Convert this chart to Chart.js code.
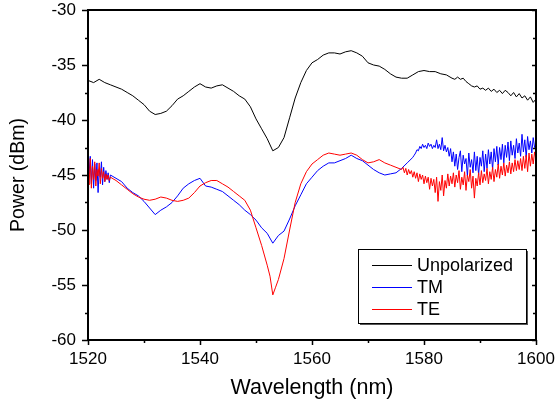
<!DOCTYPE html>
<html><head><meta charset="utf-8">
<script src="https://cdn.jsdelivr.net/npm/chart.js@4/dist/chart.umd.min.js"></script>
<style>html,body{margin:0;padding:0;background:#fff}canvas{display:block}</style>
</head><body>
<canvas id="c" width="555" height="406"></canvas>
<script>
const seriesNames = ['Unpolarized', 'TM', 'TE'];
const seriesColors = ['#000000', '#0000ff', '#ff0000'];
const xTickLabels = ['1520', '1540', '1560', '1580', '1600'];
const yTickLabels = ['-60', '-55', '-50', '-45', '-40', '-35', '-30'];

// Unpolarized (black)
const wlUnpol = [1520,1521,1522,1523,1524,1525,1526,1527,1528,1529,
 1530,1531,1532,1533,1534,1535,1536,1537,1538,1539,
 1540,1541,1542,1543,1544,1545,1546,1547,1548,1549,
 1550,1551,1552,1553,1554,1555,1556,1557,1558,1559,
 1560,1561,1562,1563,1564,1565,1566,1567,1568,1569,
 1570,1571,1572,1573,1574,1575,1576,1577,1578,1579,
 1580,1581,1582,1583,1584,1585,
 1585.5,1586,1586.5,1587,1587.5,1588,1588.5,1589,1589.5,1590,
 1590.5,1591,1591.5,1592,1592.5,1593,1593.5,1594,1594.5,1595,
 1595.5,1596,1596.5,1597,1597.5,1598,1598.5,1599,1599.5,1600];
const powUnpol = [-36.4,-36.6,-36.3,-36.6,-36.8,-37.0,-37.2,-37.5,-37.8,-38.2,
 -38.6,-39.2,-39.5,-39.4,-39.2,-38.7,-38.1,-37.8,-37.4,-37.0,
 -36.7,-37.0,-37.1,-36.9,-36.8,-37.1,-37.4,-37.8,-38.1,-38.8,
 -39.9,-40.8,-41.7,-42.8,-42.5,-41.6,-39.8,-38.0,-36.6,-35.5,
 -34.8,-34.5,-34.1,-33.9,-33.9,-34.0,-33.8,-33.7,-33.9,-34.2,
 -34.8,-35.0,-35.1,-35.4,-35.8,-36.1,-36.2,-36.2,-35.9,-35.6,
 -35.5,-35.6,-35.6,-35.8,-35.9,-36.2,
 -36.3,-36.1,-36.3,-36.2,-36.5,-36.7,-36.9,-37.0,-36.9,-37.2,
 -37.1,-37.3,-37.1,-37.4,-37.2,-37.5,-37.3,-37.6,-37.3,-37.5,
 -37.8,-37.5,-37.9,-37.6,-38.0,-37.8,-38.2,-37.9,-38.4,-38.1];

// TM (blue)
const wlTM = [1520,1520.2,1520.4,1520.6,1520.8,1521,1521.2,1521.4,1521.6,1521.8,
 1522,1522.2,1522.4,1522.6,1522.8,1523,1523.2,1523.4,1523.6,1523.8,1524,
 1525,1526,1527,1528,1529,1530,1531,1532,1533,1534,1535,1536,1537,1538,1539,
 1540,1541,1542,1543,1544,1545,1546,1547,1548,1549,1550,1551,1552,1553,1554,
 1555,1556,1557,1558,1559,1560,1561,1562,1563,1564,1565,1566,1567,1568,1569,
 1570,1571,1572,1573,1574,1575,1576,1577,1578,
 1578.25,1578.5,1578.75,1579,1579.25,1579.5,1579.75,1580,1580.25,1580.5,1580.75,1581,
 1581.25,1581.5,1581.75,1582,1582.25,1582.5,1582.75,1583,1583.25,1583.5,1583.75,1584,
 1584.25,1584.5,1584.75,1585,1585.25,1585.5,1585.75,1586,1586.25,1586.5,1586.75,1587,
 1587.25,1587.5,1587.75,1588,1588.25,1588.5,1588.75,1589,1589.25,1589.5,1589.75,1590,
 1590.25,1590.5,1590.75,1591,1591.25,1591.5,1591.75,1592,1592.25,1592.5,1592.75,1593,
 1593.25,1593.5,1593.75,1594,1594.25,1594.5,1594.75,1595,1595.25,1595.5,1595.75,1596,
 1596.25,1596.5,1596.75,1597,1597.25,1597.5,1597.75,1598,1598.25,1598.5,1598.75,1599,
 1599.25,1599.5,1599.75,1600];
const powTM = [-42.8,-44.9,-43.3,-45.8,-43.6,-46.2,-44.0,-45.5,-43.9,-46.6,
 -44.5,-45.2,-43.8,-45.9,-44.3,-45.6,-44.6,-45.4,-44.8,-45.7,-45.0,
 -45.3,-45.6,-46.2,-46.6,-46.9,-47.4,-48.0,-48.6,-48.2,-47.9,-47.5,-46.9,-46.2,-45.8,-45.5,
 -45.3,-46.0,-46.1,-46.3,-46.5,-46.9,-47.3,-47.7,-48.2,-48.6,-49.1,-49.8,-50.3,-51.2,-50.5,
 -50.1,-49.0,-47.8,-46.8,-45.8,-45.2,-44.6,-44.2,-43.9,-43.9,-43.7,-43.5,-43.2,-43.5,-43.7,
 -44.1,-44.5,-44.8,-45.0,-44.9,-44.8,-44.4,-43.9,-43.4,
 -43.2,-43.0,-42.7,-42.8,-42.4,-42.6,-42.2,-42.5,-42.3,-42.6,-42.1,-42.4,
 -42.2,-42.6,-42.3,-42.5,-41.8,-42.6,-42.2,-42.7,-41.6,-42.8,-42.3,-42.9,
 -42.5,-43.3,-42.6,-43.8,-42.9,-44.2,-43.1,-44.5,-43.4,-42.8,-44.7,-43.2,
 -44.0,-43.5,-45.1,-43.0,-44.3,-43.6,-44.8,-42.9,-44.6,-43.3,-45.0,-43.4,
 -44.2,-42.8,-44.7,-43.1,-44.4,-42.7,-44.0,-42.9,-44.5,-42.6,-43.8,-42.4,
 -44.1,-42.5,-43.6,-42.2,-43.9,-42.3,-43.4,-42.0,-43.7,-41.9,-43.2,-42.3,
 -43.5,-41.7,-43.0,-42.1,-43.3,-41.3,-42.9,-41.8,-43.4,-41.5,-42.7,-41.9,
 -43.0,-41.6,-42.5,-42.2];

// TE (red)
const wlTE = [1520,1520.2,1520.4,1520.6,1520.8,1521,1521.2,1521.4,1521.6,1521.8,
 1522,1522.2,1522.4,1522.6,1522.8,1523,1523.2,1523.4,1523.6,1523.8,1524,
 1525,1526,1527,1528,1529,1530,1531,1532,1533,1534,1535,1536,1537,1538,1539,
 1540,1541,1542,1543,1544,1545,1546,1547,1548,1549,1550,1551,1552,1552.5,1553,1553.5,1554,
 1555,1556,1557,1558,1559,1560,1561,1562,1563,1564,1565,1566,1567,1568,1569,
 1570,1571,1572,1573,1574,1575,1576,
 1576.25,1576.5,1576.75,1577,1577.25,1577.5,1577.75,1578,1578.25,1578.5,1578.75,1579,
 1579.25,1579.5,1579.75,1580,1580.25,1580.5,1580.75,1581,1581.25,1581.5,1581.75,1582,
 1582.25,1582.5,1582.75,1583,1583.25,1583.5,1583.75,1584,1584.25,1584.5,1584.75,1585,
 1585.25,1585.5,1585.75,1586,1586.25,1586.5,1586.75,1587,1587.25,1587.5,1587.75,1588,
 1588.25,1588.5,1588.75,1589,1589.25,1589.5,1589.75,1590,1590.25,1590.5,1590.75,1591,
 1591.25,1591.5,1591.75,1592,1592.25,1592.5,1592.75,1593,1593.25,1593.5,1593.75,1594,
 1594.25,1594.5,1594.75,1595,1595.25,1595.5,1595.75,1596,1596.25,1596.5,1596.75,1597,
 1597.25,1597.5,1597.75,1598,1598.25,1598.5,1598.75,1599,1599.25,1599.5,1599.75,1600];
const powTE = [-44.0,-45.9,-43.5,-46.2,-44.2,-45.4,-43.8,-46.0,-44.5,-45.1,
 -43.9,-45.8,-44.4,-45.3,-44.7,-45.6,-44.9,-45.4,-45.0,-45.5,-45.2,
 -45.5,-45.9,-46.3,-46.7,-47.0,-47.2,-47.3,-47.2,-47.0,-47.1,-47.3,-47.4,-47.3,-47.1,-46.6,
 -46.0,-45.7,-45.5,-45.5,-45.8,-46.1,-46.5,-46.9,-47.3,-48.2,-49.8,-51.4,-53.2,-54.2,-55.9,-55.2,-54.5,
 -52.6,-50.0,-47.5,-45.8,-44.7,-44.0,-43.6,-43.2,-43.0,-43.1,-43.2,-43.1,-43.0,-43.2,-43.6,
 -43.9,-43.8,-43.6,-43.9,-44.1,-44.3,-44.5,
 -44.3,-44.8,-44.4,-45.0,-44.5,-44.9,-44.6,-45.2,-44.7,-45.3,-44.8,-45.6,
 -44.9,-45.4,-45.0,-45.8,-45.1,-45.7,-45.2,-46.3,-45.3,-46.0,-45.4,-46.6,
 -45.2,-47.4,-45.6,-46.4,-45.0,-46.9,-45.5,-46.2,-44.9,-46.0,-45.1,-45.8,
 -44.8,-46.1,-45.0,-45.7,-44.6,-46.3,-45.2,-45.9,-44.7,-46.4,-45.0,-45.6,
 -44.5,-46.2,-45.1,-47.1,-45.3,-46.0,-44.8,-45.9,-44.6,-45.7,-44.9,-45.5,
 -44.4,-45.8,-44.7,-45.4,-44.3,-45.6,-44.5,-45.2,-44.0,-45.3,-44.2,-45.0,
 -43.9,-45.1,-44.1,-44.8,-43.8,-44.9,-43.9,-44.7,-43.6,-44.6,-43.7,-44.5,
 -43.5,-44.6,-43.3,-44.4,-43.2,-44.7,-43.0,-44.2,-43.1,-44.0,-42.9,-43.6];

const FONT = "'Liberation Sans', Arial, sans-serif";
const toXY = (xs, ys) => xs.map((x, i) => ({ x: x, y: ys[i] }));

const framePlugin = {
  id: 'frameLegend',
  afterDraw(chart) {
    const ctx = chart.ctx, a = chart.chartArea;
    const xs = chart.scales.x, ys = chart.scales.y;
    ctx.save();
    ctx.strokeStyle = '#000';
    ctx.lineWidth = 1.5;
    ctx.beginPath();
    xs.ticks.forEach(t => {
      const px = Math.round(xs.getPixelForValue(t.value)) + 0.5;
      const len = (t.value % 20 === 0) ? 5 : 3;
      ctx.moveTo(px, a.bottom); ctx.lineTo(px, a.bottom + len);
    });
    ys.ticks.forEach(t => {
      const py = Math.round(ys.getPixelForValue(t.value)) + 0.5;
      const major = (t.value % 5 === 0);
      ctx.moveTo(a.left, py); ctx.lineTo(a.left - (major ? 6 : 3), py);
      ctx.moveTo(a.right, py); ctx.lineTo(a.right - (major ? 4 : 3), py);
    });
    ctx.stroke();
    ctx.lineWidth = 2;
    ctx.strokeRect(a.left, a.top, a.right - a.left, a.bottom - a.top);
    // legend box
    const bw = 168, bh = 74;
    const bx = a.right - 178, by = a.bottom - 91;
    ctx.fillStyle = '#555';
    ctx.fillRect(bx + 2, by + 2, bw, bh);
    ctx.fillStyle = '#fff';
    ctx.fillRect(bx, by, bw, bh);
    ctx.lineWidth = 1;
    ctx.strokeStyle = '#000';
    ctx.strokeRect(bx + 0.5, by + 0.5, bw, bh);
    ctx.font = '18px ' + FONT;
    ctx.textBaseline = 'middle';
    ctx.textAlign = 'left';
    seriesNames.forEach((name, i) => {
      const y = Math.round(by + 15.5 + i * 22) + 0.5;
      ctx.strokeStyle = seriesColors[i];
      ctx.lineWidth = 1;
      ctx.beginPath();
      ctx.moveTo(bx + 14, y); ctx.lineTo(bx + 54, y);
      ctx.stroke();
      ctx.fillStyle = '#000';
      ctx.fillText(name, bx + 59, y + 1);
    });
    ctx.restore();
  }
};

new Chart(document.getElementById('c'), {
  type: 'line',
  data: {
    datasets: [
      { label: seriesNames[0], data: toXY(wlUnpol, powUnpol), borderColor: seriesColors[0], order: 2 },
      { label: seriesNames[1], data: toXY(wlTM, powTM), borderColor: seriesColors[1], order: 1 },
      { label: seriesNames[2], data: toXY(wlTE, powTE), borderColor: seriesColors[2], order: 0 }
    ]
  },
  options: {
    responsive: false,
    animation: false,
    devicePixelRatio: 1,
    layout: { padding: 0 },
    elements: {
      line: { borderWidth: 1, tension: 0 },
      point: { radius: 0, hoverRadius: 0 }
    },
    plugins: { legend: { display: false }, tooltip: { enabled: false } },
    scales: {
      x: {
        type: 'linear', min: 1520, max: 1600,
        grid: { display: false, drawTicks: false },
        border: { display: false },
        ticks: {
          stepSize: 10, autoSkip: false, maxRotation: 0, padding: 9,
          color: '#000', font: { family: FONT, size: 17 },
          callback: v => xTickLabels.includes(String(v)) ? String(v) : ''
        },
        title: { display: true, text: 'Wavelength (nm)', color: '#000',
          font: { family: FONT, size: 21.5 }, padding: { top: 0, bottom: 5 } },
        afterFit: s => { s.height = 66; s.paddingLeft = 0; s.paddingRight = 19; }
      },
      y: {
        type: 'linear', min: -60, max: -30,
        grid: { display: false, drawTicks: false },
        border: { display: false },
        ticks: {
          stepSize: 2.5, autoSkip: false, padding: 12,
          color: '#000', font: { family: FONT, size: 17 },
          callback: v => yTickLabels.includes(String(v)) ? String(v) : ''
        },
        title: { display: true, text: 'Power (dBm)', color: '#000',
          font: { family: FONT, size: 19.5 }, padding: { top: 7, bottom: 0 } },
        afterFit: s => { s.width = 88; s.paddingTop = 10; s.paddingBottom = 0; }
      }
    }
  },
  plugins: [framePlugin]
});
</script>
</body></html>
